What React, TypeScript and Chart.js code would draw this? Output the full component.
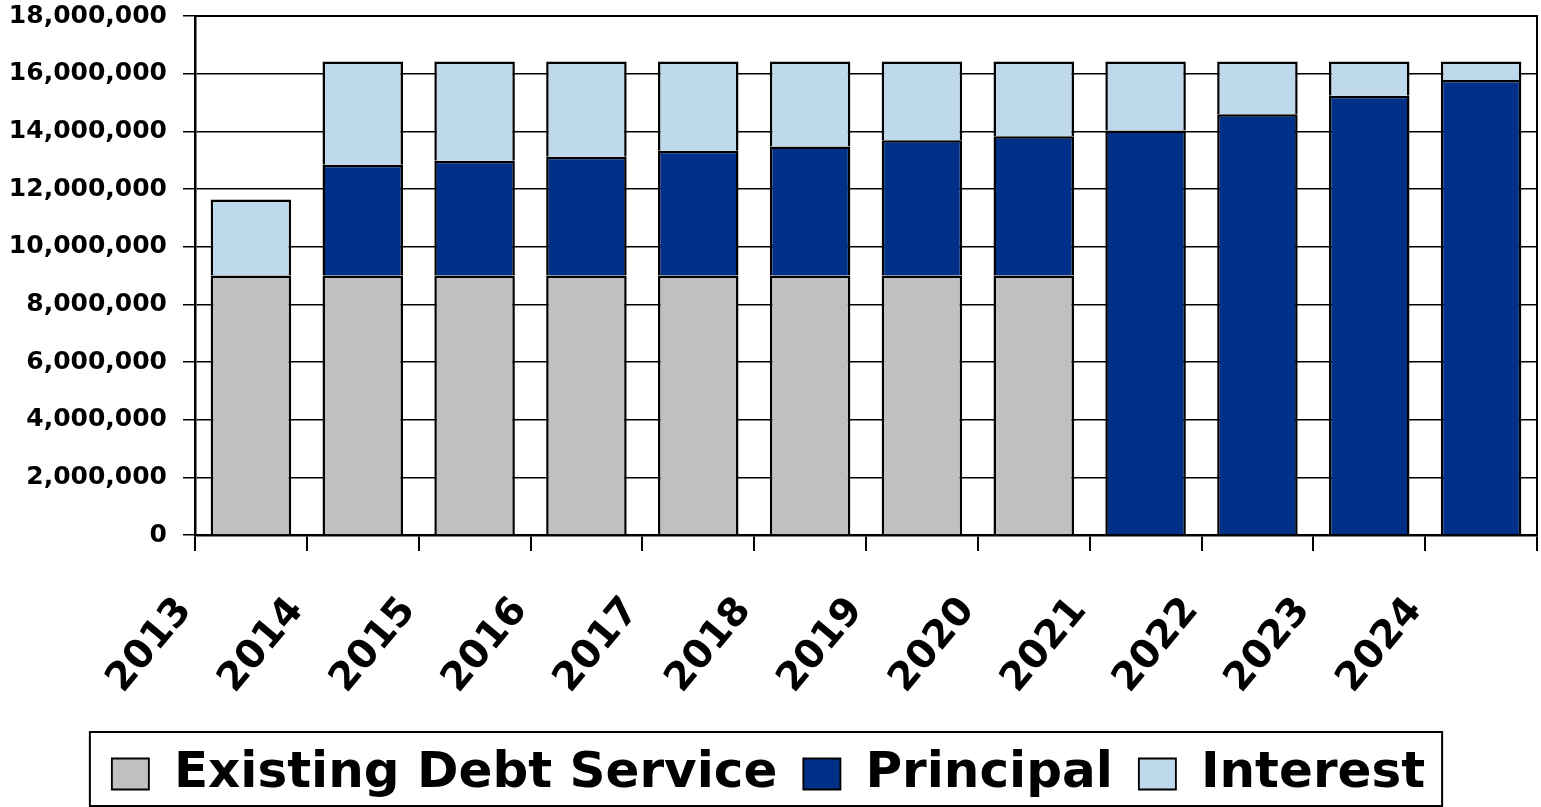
import React, { useEffect, useRef } from "react";
import { Chart, registerables } from "chart.js";

Chart.register(...registerables);

const categories = ["2013", "2014", "2015", "2016", "2017", "2018", "2019", "2020", "2021", "2022", "2023", "2024"];
const existingDebtService = [9000000, 9000000, 9000000, 9000000, 9000000, 9000000, 9000000, 9000000, 0, 0, 0, 0];
const principal = [0, 3840000, 3980000, 4120000, 4330000, 4470000, 4690000, 4830000, 14030000, 14590000, 15230000, 15780000];
const interest = [2640000, 3580000, 3440000, 3300000, 3090000, 2950000, 2730000, 2590000, 2390000, 1830000, 1190000, 640000];
const yMin = 0;
const yMax = 18000000;
const yStep = 2000000;

const FONT = "'DejaVu Sans', Arial, sans-serif";

const framePlugin = {
  id: "frame",
  afterDatasetsDraw(chart: any) {
    const { ctx, chartArea } = chart;
    ctx.save();
    ctx.strokeStyle = "#000";
    ctx.lineWidth = 2;
    ctx.beginPath();
    ctx.moveTo(chartArea.left, chartArea.top);
    ctx.lineTo(chartArea.right, chartArea.top);
    ctx.lineTo(chartArea.right, chartArea.bottom);
    ctx.stroke();
    ctx.restore();
  },
  afterDraw(chart: any) {
    const legend = chart.legend;
    if (!legend || !legend.legendHitBoxes || !legend.legendHitBoxes.length) return;
    const hb = legend.legendHitBoxes;
    const first = hb[0];
    const last = hb[hb.length - 1];
    const left = first.left - 22;
    const right = last.left + last.width + 17;
    const top = first.top - 17;
    const bottom = first.top + 57;
    const { ctx } = chart;
    ctx.save();
    ctx.strokeStyle = "#000";
    ctx.lineWidth = 2;
    ctx.strokeRect(left, top, right - left, bottom - top);
    ctx.restore();
  },
};

const segBorder = { left: 2.5, right: 2.5, top: 2.5, bottom: 0 };

export default function App() {
  const ref = useRef<HTMLCanvasElement | null>(null);

  useEffect(() => {
    if (!ref.current) return;
    const chart = new Chart(ref.current, {
      type: "bar",
      data: {
        labels: categories,
        datasets: [
          {
            label: "Existing Debt Service",
            data: existingDebtService,
            backgroundColor: "#C0C0C0",
            borderColor: "#000",
            borderWidth: segBorder,
            borderSkipped: false,
          },
          {
            label: "Principal",
            data: principal,
            backgroundColor: "#003087",
            borderColor: "#000",
            borderWidth: segBorder,
            borderSkipped: false,
          },
          {
            label: "Interest",
            data: interest,
            backgroundColor: "#BFD9EC",
            borderColor: "#000",
            borderWidth: segBorder,
            borderSkipped: false,
          },
        ],
      },
      options: {
        animation: false,
        responsive: true,
        maintainAspectRatio: false,
        layout: { padding: { top: 16, right: 4, left: 0, bottom: -2 } },
        datasets: { bar: { categoryPercentage: 0.8, barPercentage: 0.9 } },
        plugins: {
          tooltip: { enabled: false },
          legend: {
            position: "bottom",
            labels: {
              boxWidth: 37,
              boxHeight: 31,
              padding: 26,
              color: "#000",
              font: { family: FONT, size: 50, weight: "bold" },
            },
          },
        },
        scales: {
          x: {
            stacked: true,
            grid: {
              display: true,
              drawOnChartArea: false,
              drawTicks: true,
              tickLength: 16,
              color: "#000",
              lineWidth: 2,
              offset: true,
            },
            border: { display: true, color: "#000", width: 2.5 },
            ticks: {
              minRotation: 50,
              maxRotation: 50,
              autoSkip: false,
              padding: 38,
              labelOffset: -66,
              color: "#000",
              font: { family: FONT, size: 39, weight: "bold" },
            },
            afterFit(scale: any) {
              scale.height = 188;
              scale.paddingRight = 0;
              scale.paddingLeft = 0;
            },
          },
          y: {
            stacked: true,
            min: yMin,
            max: yMax,
            ticks: {
              stepSize: yStep,
              padding: 16,
              color: "#000",
              font: { family: FONT, size: 25, weight: "bold" },
              callback: (v: any) => Number(v).toLocaleString("en-US"),
            },
            grid: {
              color: "#000",
              lineWidth: 1.5,
              tickLength: 12,
              drawTicks: true,
            },
            border: { display: true, color: "#000", width: 2.5 },
            afterFit(scale: any) {
              scale.width = 195;
              scale.paddingTop = 0;
              scale.paddingBottom = 0;
            },
          },
        },
      },
      plugins: [framePlugin],
    } as any);
    return () => chart.destroy();
  }, []);

  return (
    <div style={{ position: "fixed", left: 0, top: 0, width: 1541, height: 807, background: "#fff" }}>
      <canvas ref={ref} />
    </div>
  );
}
